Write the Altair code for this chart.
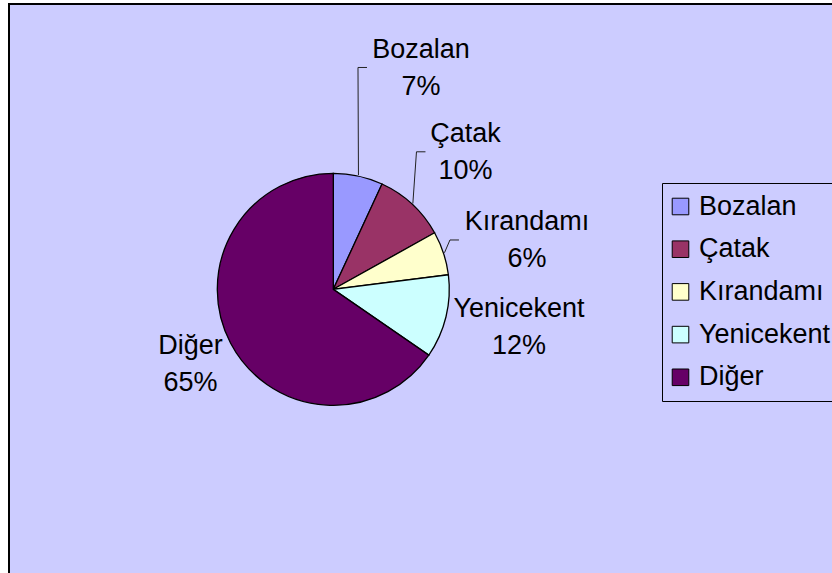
import altair as alt
import pandas as pd

# ---- data ----
categories = ["Bozalan", "Çatak", "Kırandamı", "Yenicekent", "Diğer"]
shares = [6.9, 10.0, 6.1, 11.6, 65.4]
colors = ["#9999FF", "#993366", "#FFFFCC", "#CCFFFF", "#660066"]

# ---- label layout (Excel-style placement around the pie) ----
label_radius = {"Bozalan": 237.6, "Çatak": 190.0, "Kırandamı": 199.6, "Yenicekent": 189.5, "Diğer": 161.5}
label_shift_deg = {"Bozalan": 9.24, "Çatak": 1.24, "Kırandamı": 4.17, "Yenicekent": -2.2, "Diğer": -0.14}
has_leader = {"Bozalan": 1, "Çatak": 1, "Kırandamı": 1, "Yenicekent": 0, "Diğer": 0}

W, H = 824, 570
CX, CY = 325.3, 286.3
R = 116
FONT = "Liberation Sans"
FS = 27
LH = 37

df = pd.DataFrame({"cat": categories, "share": shares, "idx": list(range(len(categories)))})
df["lr"] = df["cat"].map(label_radius)
df["ls"] = df["cat"].map(label_shift_deg)
df["lead"] = df["cat"].map(has_leader)

base = (
    alt.Chart(df)
    .transform_window(cum="sum(share)", sort=[alt.SortField("idx")], frame=[None, 0])
    .transform_joinaggregate(total="sum(share)")
    .transform_calculate(mid="2*PI*(datum.cum - datum.share/2)/datum.total")
    .transform_calculate(la="datum.mid + datum.ls*PI/180")
    .transform_calculate(lx=f"{CX} + datum.lr*sin(datum.la)")
    .transform_calculate(ly=f"{CY} - datum.lr*cos(datum.la)")
    .transform_calculate(ex=f"{CX} + {R + 1}*sin(datum.mid)")
    .transform_calculate(ey=f"{CY} - {R + 1}*cos(datum.mid)")
    .transform_calculate(kx="datum.lx - (7*length(datum.cat) + 14)")
    .transform_calculate(ky="datum.ly - 1")
    .transform_calculate(tx="datum.kx + 9")
    .transform_calculate(lab="datum.cat + '\\n' + format(datum.share/datum.total, '.0%')")
)

pie = base.mark_arc(radius=R, stroke="black", strokeWidth=1.3).encode(
    theta=alt.Theta("share:Q", stack=True),
    color=alt.Color(
        "cat:N",
        sort=categories,
        scale=alt.Scale(domain=categories, range=colors),
        legend=alt.Legend(
            title=None,
            orient="none",
            legendX=654,
            legendY=180,
            direction="vertical",
            symbolType="square",
            symbolSize=275,
            symbolStrokeColor="black",
            symbolStrokeWidth=1,
            symbolOffset=-5,
            labelFont=FONT,
            labelFontSize=FS,
            labelColor="black",
            labelOffset=5,
            labelLimit=400,
            rowPadding=14.7,
            padding=10,
            strokeColor="black",
            fillColor="#CCCCFF",
        ),
    ),
    order=alt.Order("idx:Q", sort="ascending"),
    x=alt.value(CX),
    y=alt.value(CY),
)

leaders = base.transform_filter("datum.lead == 1").mark_rule(color="#222222", strokeWidth=1).encode(
    x=alt.X("ex:Q", scale=None, axis=None),
    y=alt.Y("ey:Q", scale=None, axis=None),
    x2="kx:Q",
    y2="ky:Q",
)

ticks = base.transform_filter("datum.lead == 1").mark_rule(color="#222222", strokeWidth=1).encode(
    x=alt.X("kx:Q", scale=None, axis=None),
    x2="tx:Q",
    y=alt.Y("ky:Q", scale=None, axis=None),
)

labels = base.mark_text(
    font=FONT, fontSize=FS, lineBreak="\n", lineHeight=LH,
    align="center", baseline="middle", color="black", dy=-LH / 2,
).encode(
    x=alt.X("lx:Q", scale=None, axis=None),
    y=alt.Y("ly:Q", scale=None, axis=None),
    text="lab:N",
)

frame_df = pd.DataFrame({"k": [0]})
frame_left = alt.Chart(frame_df).mark_rule(color="black", strokeWidth=2).encode(
    x=alt.value(1), y=alt.value(0), y2=alt.value(H)
)
frame_top = alt.Chart(frame_df).mark_rule(color="black", strokeWidth=2).encode(
    y=alt.value(1), x=alt.value(0), x2=alt.value(W)
)

chart = (
    alt.layer(pie, leaders, ticks, labels, frame_left, frame_top)
    .properties(
        width=W,
        height=H,
        autosize=alt.AutoSizeParams(type="none"),
        padding={"left": 8, "top": 3, "right": 0, "bottom": 0},
        background="white",
    )
    .configure_view(fill="#CCCCFF", stroke="#CCCCFF")
)

chart.save("out.html", embed_options={"renderer": "svg", "actions": False})
